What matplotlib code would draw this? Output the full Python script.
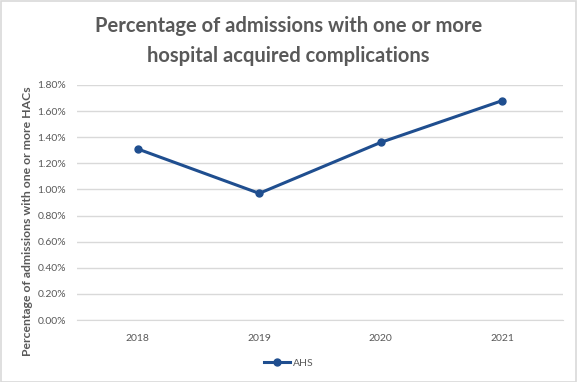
import matplotlib
matplotlib.use("Agg")
import matplotlib.pyplot as plt
from matplotlib.ticker import FuncFormatter

years = ["2018", "2019", "2020", "2021"]
ahs = [1.31, 0.97, 1.36, 1.68]
series_name = "AHS"
title = "Percentage of admissions with one or more\nhospital acquired complications"
ylabel = "Percentage of admissions with one or more HACs"

plt.rcParams['font.family'] = ['Lato', 'DejaVu Sans']
fig = plt.figure(figsize=(5.77, 3.82), dpi=100)
fig.patch.set_facecolor('white')
fig.patches.append(plt.Rectangle((0.001, 0.001), 0.997, 0.996, transform=fig.transFigure,
                                 fill=False, edgecolor='#D9D9D9', linewidth=1.2))

ax = fig.add_axes([0.1335, 0.1623, 0.842, 0.6152])
x = list(range(len(years)))
ax.plot(x, ahs, color='#1F4E8F', linewidth=2.2, marker='o', markersize=5, label=series_name)
ax.set_xlim(-0.5, len(years) - 0.5)
ax.set_ylim(0, 1.8)
ax.set_yticks([i * 0.2 for i in range(10)])
ax.yaxis.set_major_formatter(FuncFormatter(lambda v, p: f"{v:.2f}%"))
ax.set_xticks(x)
ax.set_xticklabels(years)
ax.grid(axis='y', color='#D9D9D9', linewidth=1)
ax.set_axisbelow(True)
for s in ['top', 'right', 'left']:
    ax.spines[s].set_visible(False)
ax.spines['bottom'].set_color('#D9D9D9')
ax.tick_params(axis='both', length=0, labelsize=7.5, labelcolor='#595959', pad=8)
ax.tick_params(axis='x', pad=10)

fig.text(0.5, 0.893, title, ha='center', va='center', fontsize=14.5, fontweight='bold',
         color='#595959', linespacing=1.65)
fig.text(0.047, 0.42, ylabel, rotation=90, ha='center', va='center', fontsize=8.8,
         fontweight='bold', color='#595959')

leg = fig.legend(loc='center', bbox_to_anchor=(0.5, 0.05), frameon=False, fontsize=7.5,
                 handlelength=2.5, handletextpad=0.3)
for t in leg.get_texts():
    t.set_color('#595959')

fig.savefig("out.png", dpi=100)
